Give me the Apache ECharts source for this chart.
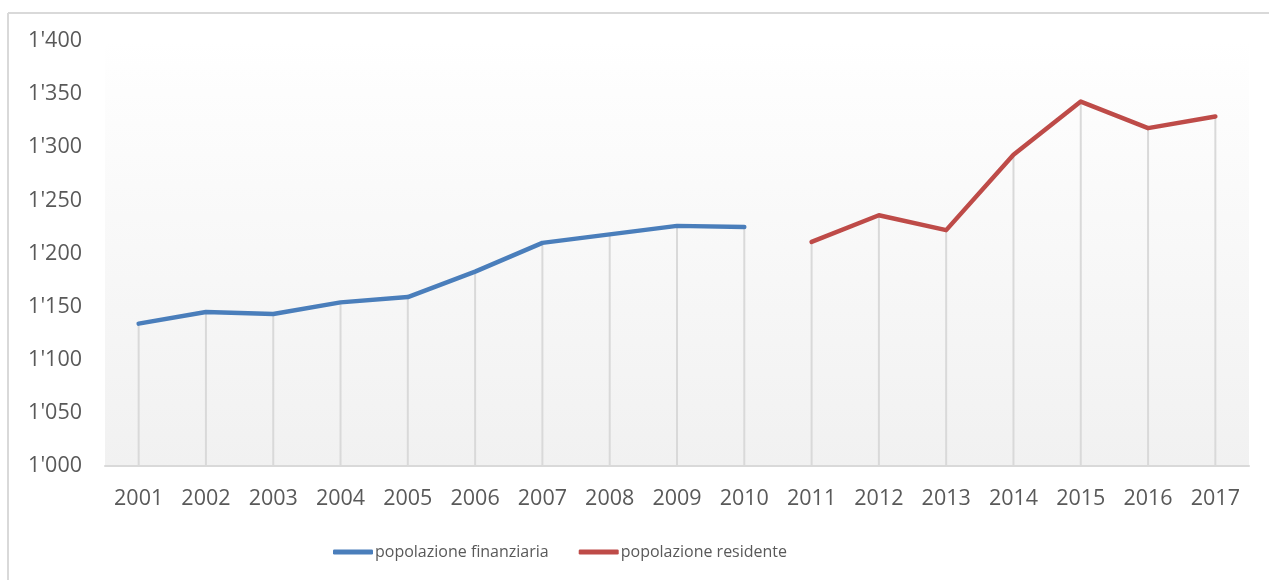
<!DOCTYPE html>
<html>
<head>
<meta charset="utf-8">
<script src="https://cdn.jsdelivr.net/npm/echarts@6/dist/echarts.min.js"></script>
<style>
html,body{margin:0;padding:0;background:#fff;}
#chart{width:1269px;height:580px;}
</style>
</head>
<body>
<div id="chart"></div>
<script>
const years = ['2001','2002','2003','2004','2005','2006','2007','2008','2009','2010','2011','2012','2013','2014','2015','2016','2017'];
const popolazioneFinanziaria = [1134,1145,1143,1154,1159,1183,1210,1218,1226,1225,null,null,null,null,null,null,null];
const popolazioneResidente = [null,null,null,null,null,null,null,null,null,null,1211,1236,1222,1293,1343,1318,1329];
const yTicks = { min: 1000, max: 1400, interval: 50 };

const dropValues = years.map((y, i) => popolazioneFinanziaria[i] != null ? popolazioneFinanziaria[i] : popolazioneResidente[i]);

const fmt = v => String(v).replace(/\B(?=(\d{3})+(?!\d))/g, "'");
const chart = echarts.init(document.getElementById('chart'), null, {renderer: 'canvas'});
const font = '"Open Sans", "Noto Sans", sans-serif';
chart.setOption({
  animation: false,
  backgroundColor: '#ffffff',
  graphic: [
    { type: 'line', shape: { x1: 8, y1: 13, x2: 1269, y2: 13 }, style: { stroke: '#d9d9d9', lineWidth: 2 } },
    { type: 'line', shape: { x1: 8, y1: 13, x2: 8, y2: 580 }, style: { stroke: '#d9d9d9', lineWidth: 2 } }
  ],
  grid: {
    left: 105, right: 20, top: 41, bottom: 114,
    show: true, borderWidth: 0,
    backgroundColor: new echarts.graphic.LinearGradient(0, 0, 0, 1, [
      { offset: 0, color: '#ffffff' },
      { offset: 0.12, color: '#fdfdfd' },
      { offset: 1, color: '#f1f1f1' }
    ])
  },
  legend: {
    left: 333, top: 544, padding: 0,
    itemWidth: 40, itemHeight: 5, itemGap: 30,
    icon: 'roundRect',
    textStyle: { fontFamily: font, fontSize: 16, color: '#595959', padding: [0,0,0,-3] },
    data: ['popolazione finanziaria', 'popolazione residente']
  },
  xAxis: {
    type: 'category',
    data: years,
    boundaryGap: true,
    axisLine: { lineStyle: { color: '#d9d9d9', width: 2 } },
    axisTick: { show: false },
    axisLabel: { fontFamily: font, fontSize: 21.5, color: '#595959', margin: 22 }
  },
  yAxis: {
    type: 'value',
    min: yTicks.min, max: yTicks.max, interval: yTicks.interval,
    axisLine: { show: false },
    axisTick: { show: false },
    splitLine: { show: false },
    axisLabel: { fontFamily: font, fontSize: 21.5, color: '#595959', margin: 23, formatter: fmt }
  },
  series: [
    {
      name: 'drop', type: 'bar', data: dropValues, barWidth: 2, silent: true,
      itemStyle: { color: '#d9d9d9' }, z: 1
    },
    {
      name: 'popolazione finanziaria', type: 'line', data: popolazioneFinanziaria,
      symbol: 'none', connectNulls: false, z: 3,
      itemStyle: { color: '#4a7ebb' },
      lineStyle: { color: '#4a7ebb', width: 4.5, cap: 'round', join: 'round' }
    },
    {
      name: 'popolazione residente', type: 'line', data: popolazioneResidente,
      symbol: 'none', connectNulls: false, z: 3,
      itemStyle: { color: '#be4b48' },
      lineStyle: { color: '#be4b48', width: 4.5, cap: 'round', join: 'round' }
    }
  ]
});
</script>
</body>
</html>
